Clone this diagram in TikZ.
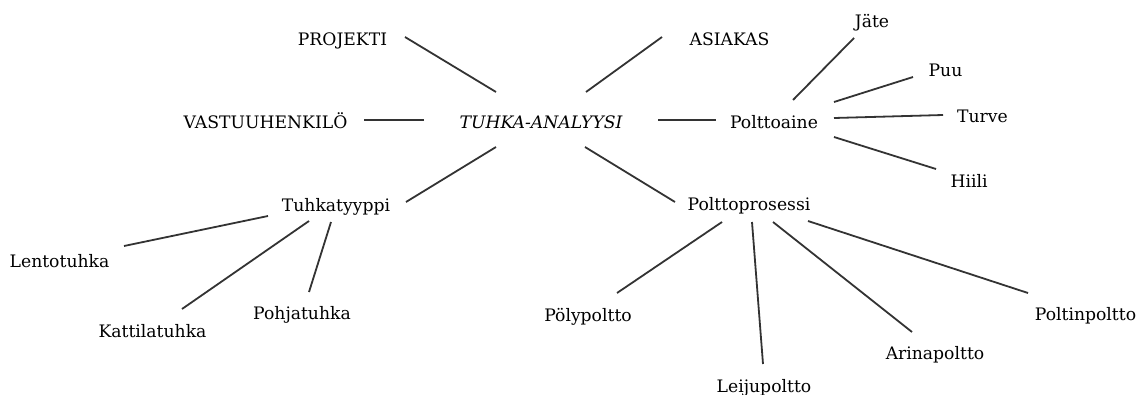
\documentclass[tikz,border=0pt]{standalone}
\usepackage{fontspec}
\setmainfont{DejaVu Serif}
\begin{document}
\begin{tikzpicture}[x=1pt,y=-1pt,
  lbl/.style={anchor=base,inner sep=0pt,font=\fontsize{17.2}{21}\selectfont},
  link/.style={line width=1.8pt,draw=black!80}]
\useasboundingbox (0,0) rectangle (1145,394);
\node[lbl] (proj)   at (342.5,45)  {PROJEKTI};
\node[lbl] (asia)   at (729.5,45)  {ASIAKAS};
\node[lbl] (vast)   at (265.5,128) {VASTUUHENKILÖ};
\node[lbl] (tuhka)  at (541,128)   {\itshape TUHKA-ANALYYSI};
\node[lbl] (ptoa)   at (774,128)   {Polttoaine};
\node[lbl] (jate)   at (872,27)    {Jäte};
\node[lbl] (puu)    at (945.5,76)  {Puu};
\node[lbl] (turve)  at (982.5,122) {Turve};
\node[lbl] (hiili)  at (969,187)   {Hiili};
\node[lbl] (ttyp)   at (336,211)   {Tuhkatyyppi};
\node[lbl] (pprs)   at (749,210)   {Polttoprosessi};
\node[lbl] (lento)  at (59.5,267)  {Lentotuhka};
\node[lbl] (katt)   at (152.5,337) {Kattilatuhka};
\node[lbl] (pohja)  at (302,319)   {Pohjatuhka};
\node[lbl] (poly)   at (588,321)   {Pölypoltto};
\node[lbl] (leiju)  at (764,392)   {Leijupoltto};
\node[lbl] (arina)  at (935,359)   {Arinapoltto};
\node[lbl] (poltin) at (1085.5,320){Poltinpoltto};
% connectors: endpoints given relative to the named nodes
\draw[link] ([shift={(-45,-36)}]tuhka.base) -- ([shift={(62.5,-8)}]proj.base);
\draw[link] ([shift={(45,-36)}]tuhka.base)  -- ([shift={(-67.5,-8)}]asia.base);
\draw[link] ([shift={(-117,-8)}]tuhka.base) -- ([shift={(98.5,-8)}]vast.base);
\draw[link] ([shift={(117,-8)}]tuhka.base)  -- ([shift={(-58,-8)}]ptoa.base);
\draw[link] ([shift={(19,-28)}]ptoa.base)   -- ([shift={(-18,11)}]jate.base);
\draw[link] ([shift={(60,-26)}]ptoa.base)   -- ([shift={(-32.5,1)}]puu.base);
\draw[link] ([shift={(60,-10)}]ptoa.base)   -- ([shift={(-39.5,-7)}]turve.base);
\draw[link] ([shift={(60,9)}]ptoa.base)     -- ([shift={(-33,-18)}]hiili.base);
\draw[link] ([shift={(-45,19)}]tuhka.base)  -- ([shift={(70,-9)}]ttyp.base);
\draw[link] ([shift={(44,19)}]tuhka.base)   -- ([shift={(-74,-8)}]pprs.base);
\draw[link] ([shift={(-68,5)}]ttyp.base)    -- ([shift={(64.5,-21)}]lento.base);
\draw[link] ([shift={(-27,10)}]ttyp.base)   -- ([shift={(29.5,-28)}]katt.base);
\draw[link] ([shift={(-5,11)}]ttyp.base)    -- ([shift={(7,-27)}]pohja.base);
\draw[link] ([shift={(-27,12)}]pprs.base)   -- ([shift={(29,-28)}]poly.base);
\draw[link] ([shift={(3,12)}]pprs.base)     -- ([shift={(-1,-28)}]leiju.base);
\draw[link] ([shift={(24,12)}]pprs.base)    -- ([shift={(-23,-27)}]arina.base);
\draw[link] ([shift={(59,11)}]pprs.base)    -- ([shift={(-57.5,-27)}]poltin.base);
\end{tikzpicture}
\end{document}
